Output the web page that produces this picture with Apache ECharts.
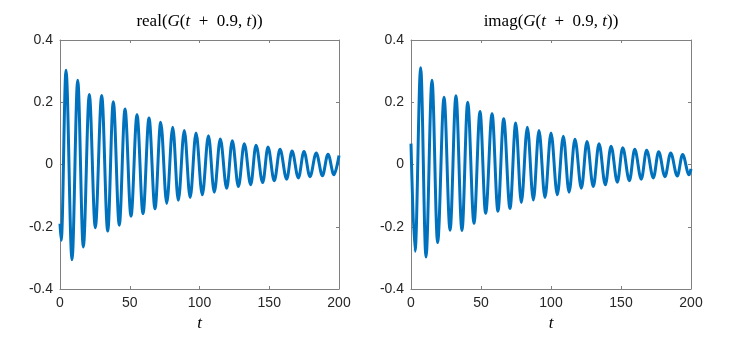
<!DOCTYPE html>
<html>
<head>
<meta charset="utf-8">
<script src="https://cdn.jsdelivr.net/npm/echarts@6/dist/echarts.min.js"></script>
<style>
  html, body { margin: 0; padding: 0; background: #fff; }
  #main { width: 747px; height: 337px; }
</style>
</head>
<body>
<div id="main"></div>
<script>
// extrema (t, value)
const tReal = [0, 0.9, 4.3, 8.6, 12.7, 16.7, 21.0, 25.3, 29.9, 34.2, 38.2, 42.5, 46.6, 50.9, 55.2, 59.5,
  63.8, 68.1, 72.2, 76.5, 80.8, 84.8, 89.1, 93.3, 97.5, 102.0, 106.4, 110.6, 114.9, 119.5, 123.5, 127.9,
  132.1, 136.7, 140.5, 145.3, 149.1, 153.6, 157.7, 162.5, 166.3, 170.9, 174.9, 179.2, 183.7, 188.1,
  192.1, 196.4, 200];
const realVals = [-0.19, -0.243, 0.303, -0.306, 0.271, -0.265, 0.225, -0.203, 0.222, -0.214, 0.202, -0.195,
  0.178, -0.166, 0.160, -0.158, 0.149, -0.142, 0.136, -0.125, 0.120, -0.115, 0.109, -0.106, 0.101, -0.097,
  0.092, -0.089, 0.082, -0.076, 0.076, -0.071, 0.067, -0.065, 0.062, -0.058, 0.056, -0.052, 0.049, -0.047,
  0.043, -0.043, 0.042, -0.039, 0.037, -0.036, 0.033, -0.033, 0.029];

const tImag = [0, 2.9, 6.9, 10.7, 15.0, 19.0, 23.6, 27.9, 32.1, 36.4, 40.5, 45.0, 49.3, 53.3, 57.9, 62.1,
  66.2, 70.7, 74.8, 78.8, 83.1, 87.4, 91.4, 95.7, 100.0, 104.5, 108.8, 112.9, 117.1, 121.7, 125.7, 130.2,
  134.3, 138.8, 142.9, 147.4, 151.2, 156.0, 159.8, 164.5, 168.3, 173.1, 176.9, 181.4, 185.5, 190.2,
  194.0, 198.6, 200];
const imagVals = [0.067, -0.279, 0.311, -0.297, 0.271, -0.251, 0.216, -0.211, 0.221, -0.212, 0.200, -0.189,
  0.170, -0.157, 0.163, -0.150, 0.147, -0.141, 0.133, -0.122, 0.120, -0.114, 0.109, -0.106, 0.101, -0.097,
  0.091, -0.089, 0.081, -0.076, 0.074, -0.071, 0.067, -0.065, 0.059, -0.057, 0.054, -0.052, 0.049, -0.047,
  0.046, -0.043, 0.041, -0.039, 0.037, -0.037, 0.032, -0.033, -0.014];

const xTicks = [0, 50, 100, 150, 200];
const yTicks = [-0.4, -0.2, 0, 0.2, 0.4];

const titles = [
  '{r|real(}{i|G}{r|(}{i|t}{r|  +  0.9, }{i|t}{r|))}',
  '{r|imag(}{i|G}{r|(}{i|t}{r|  +  0.9, }{i|t}{r|))}'
];

const axisColor = '#808080';
const textColor = '#262626';
const serif = 'Liberation Serif';

const richName = {
  r: { fontFamily: serif, fontSize: 17, color: '#000' },
  i: { fontFamily: serif, fontSize: 17, fontStyle: 'italic', color: '#000' }
};

const chart = echarts.init(document.getElementById('main'));

function bottomX(g) {
  return {
    type: 'value', gridIndex: g, position: 'bottom',
    min: xTicks[0], max: xTicks[xTicks.length - 1], interval: 50,
    name: '{i|t}', nameLocation: 'middle', nameGap: 25,
    nameTextStyle: { rich: richName },
    axisLine: { show: true, onZero: false, lineStyle: { color: axisColor, width: 1 } },
    axisTick: { show: true, inside: true, length: 3, lineStyle: { color: axisColor } },
    axisLabel: { fontFamily: 'Liberation Sans', fontSize: 14, color: textColor, margin: 7 },
    splitLine: { show: false }
  };
}
function topX(g, title) {
  return {
    type: 'value', gridIndex: g, position: 'top',
    min: xTicks[0], max: xTicks[xTicks.length - 1], interval: 50,
    name: title, nameLocation: 'middle', nameGap: 10,
    nameTextStyle: { rich: richName },
    axisLine: { show: true, onZero: false, lineStyle: { color: axisColor, width: 1 } },
    axisTick: { show: true, inside: true, length: 3, lineStyle: { color: axisColor } },
    axisLabel: { show: false },
    splitLine: { show: false }
  };
}
function sideY(g, pos) {
  return {
    type: 'value', gridIndex: g, position: pos,
    min: yTicks[0], max: yTicks[yTicks.length - 1], interval: 0.2,
    axisLine: { show: true, onZero: false, lineStyle: { color: axisColor, width: 1 } },
    axisTick: { show: true, inside: true, length: 3, lineStyle: { color: axisColor } },
    axisLabel: {
      show: pos === 'left', fontFamily: 'Liberation Sans', fontSize: 14, color: textColor, margin: 7,
      formatter: v => String(Math.round(v * 10) / 10)
    },
    splitLine: { show: false }
  };
}

function lineSeries(g, t, vals) {
  return {
    type: 'line', xAxisIndex: g * 2, yAxisIndex: g * 2,
    data: t.map((x, i) => [x, vals[i]]),
    showSymbol: false, smooth: 0.35, smoothMonotone: 'x',
    lineStyle: { color: '#0072BD', width: 3 },
    itemStyle: { color: '#0072BD' }
  };
}

const option = {
  animation: false,
  backgroundColor: '#fff',
  grid: [
    { left: 60, top: 40, width: 279, height: 249, outerBoundsMode: 'none' },
    { left: 411, top: 40, width: 280, height: 249, outerBoundsMode: 'none' }
  ],
  xAxis: [bottomX(0), topX(0, titles[0]), bottomX(1), topX(1, titles[1])],
  yAxis: [sideY(0, 'left'), sideY(0, 'right'), sideY(1, 'left'), sideY(1, 'right')],
  series: [lineSeries(0, tReal, realVals), lineSeries(1, tImag, imagVals)]
};
option && chart.setOption(option);
</script>
</body>
</html>
